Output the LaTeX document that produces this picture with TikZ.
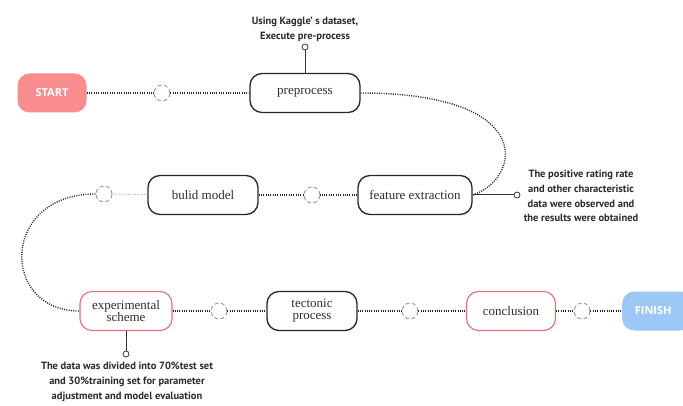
\documentclass[tikz,border=0pt]{standalone}
\usepackage{fontspec}
\setmainfont{Liberation Serif}
\newfontfamily\notefont{PT Sans}
\newfontfamily\termfont{Open Sans}
\definecolor{startpink}{HTML}{F88C8E}
\definecolor{finishblue}{HTML}{9DC8F6}
\definecolor{pinkline}{HTML}{E46C7C}
\definecolor{boxtext}{HTML}{2E2E2E}
\definecolor{notetext}{HTML}{2A2A2A}
\tikzset{
  stepbox/.style={draw=black!85, line width=1.3pt, rounded corners=12pt, minimum height=39pt, fill=white, text=boxtext, font=\fontsize{13}{14}\selectfont, align=center, inner sep=2pt},
  pinkbox/.style={stepbox, draw=pinkline, line width=1.1pt},
  termbox/.style={rounded corners=12pt, minimum height=39pt, text=white, font=\termfont\bfseries\fontsize{11}{12}\selectfont, inner sep=0pt},
  hub/.style={circle, draw=gray!80, dash pattern=on 4pt off 2.5pt, line width=0.9pt, minimum size=16pt, inner sep=0pt},
  dotline/.style={line width=1.4pt, black!85, dash pattern=on 1pt off 1.3pt},
  lightdot/.style={line width=1pt, gray!60, dash pattern=on 1pt off 1.3pt},
  pin/.style={circle, draw=black!80, line width=0.8pt, fill=white, minimum size=6pt, inner sep=0pt},
  stem/.style={line width=1pt, black!80},
  note/.style={text=notetext, font=\notefont\bfseries\fontsize{10.5}{14.8}\selectfont, align=center, inner sep=0pt}
}
\begin{document}
\begin{tikzpicture}[x=1pt,y=-1pt]
\useasboundingbox (0,0) rectangle (683,406);
% nodes
\node[termbox, fill=startpink, minimum width=69pt] (start) at (52,93) {START};
\node[hub] (h1) at (162,93) {};
\node[stepbox, minimum width=110pt] (pre) at (305,93) {preprocess};
\node[stepbox, minimum width=114pt] (feat) at (415,195) {feature extraction};
\node[hub] (h2) at (312,195) {};
\node[stepbox, minimum width=110pt] (build) at (203,195) {bulid model};
\node[hub] (h3) at (104,194) {};
\node[pinkbox, minimum width=92pt] (exp) at (126,311) {experimental\\[-2pt]scheme};
\node[hub] (h4) at (219,311) {};
\node[stepbox, minimum width=90pt] (tect) at (312,311) {tectonic\\[-2pt]process};
\node[hub] (h5) at (410,311) {};
\node[pinkbox, minimum width=89pt] (conc) at (511,311) {conclusion};
\node[hub] (h6) at (582,311) {};
\begin{scope}
\clip (0,0) rectangle (683,406);
\node[termbox, fill=finishblue, minimum width=70pt, anchor=west] (fin) at (622,311) {\hspace*{-8pt}FINISH};
\end{scope}
% connectors
\draw[dotline] (start) -- (h1);
\draw[dotline] (h1) -- (pre);
\draw[dotline] (pre.east) .. controls (540,93) and (520,180) .. (feat.east);
\draw[dotline] (feat) -- (h2);
\draw[dotline] (h2) -- (build);
\draw[lightdot] (build) -- (h3);
\draw[dotline] (h3.west) .. controls (0,194) and (0,311) .. (exp.west);
\draw[dotline] (exp) -- (h4);
\draw[dotline] (h4) -- (tect);
\draw[dotline] (tect) -- (h5);
\draw[dotline] (h5) -- (conc);
\draw[dotline] (conc) -- (h6);
\draw[dotline] (h6) -- (fin.west);
% annotations
\node[pin] (p1) at (305,47) {};
\draw[stem] (pre.north) -- (p1);
\node[note, anchor=south] (n1) at (305,42) {Using Kaggle’ s dataset,\\Execute pre-process};
\node[pin] (p2) at (517,195) {};
\draw[stem] (feat.east) -- (p2);
\node[note] (n2) at (581,196) {The positive rating rate\\and other characteristic\\data were observed and\\the results were obtained};
\node[pin] (p3) at (126,354) {};
\draw[stem] (exp.south) -- (p3);
\node[note, anchor=north] (n3) at (127,362) {The data was divided into 70\%test set\\and 30\%training set for parameter\\adjustment and model evaluation};
\end{tikzpicture}
\end{document}
